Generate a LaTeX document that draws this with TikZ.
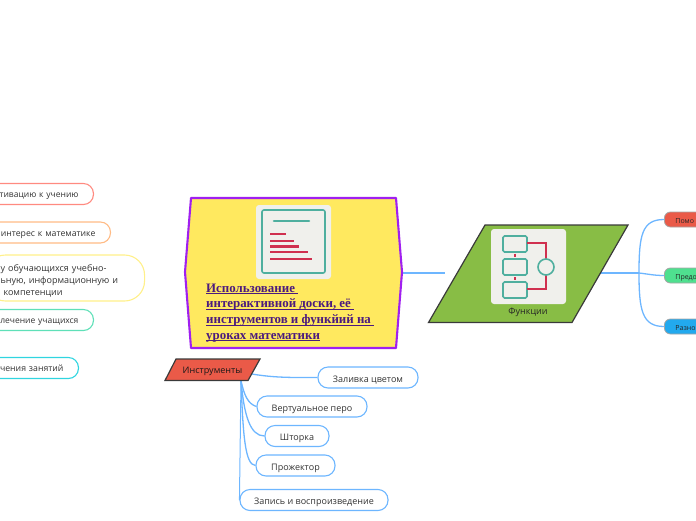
\documentclass[tikz,border=0pt]{standalone}
\usepackage{fontspec}
\usepackage{xcolor}
\usepackage{tikz}
\usetikzlibrary{positioning,arrows.meta,backgrounds,calc}
\setmainfont{Open Sans}
\newfontfamily\headfont{Liberation Serif}
\definecolor{cLink}{HTML}{6DB6FF}
\definecolor{cEdge}{HTML}{3A3A3A}
\definecolor{cPurple}{HTML}{A020F0}
\definecolor{cInk}{HTML}{4B1A7E}
\definecolor{cYellow}{HTML}{FFE95F}
\definecolor{cGreen}{HTML}{88BD45}
\definecolor{cRed}{HTML}{EA5A48}
\definecolor{cMint}{HTML}{4FE08F}
\definecolor{cSky}{HTML}{22A9EE}
\definecolor{cPanel}{HTML}{F0F0EC}
\definecolor{cTeal}{HTML}{4FAF9F}
\definecolor{cBar}{HTML}{D0304F}
\definecolor{cSalmon}{HTML}{FF8A80}
\definecolor{cPeach}{HTML}{FFBB85}
\definecolor{cLemon}{HTML}{FFF08A}
\definecolor{cAqua}{HTML}{5FE0B8}
\definecolor{cCyan}{HTML}{30D5E0}
\newcommand{\headline}[1]{{\setbox0\hbox{#1}\copy0\llap{\rule[-2pt]{\wd0}{1pt}}}}
\tikzset{
  leaf/.style={draw, fill=white, rounded corners=10pt, line width=1.1pt, inner ysep=0pt,
               font=\fontsize{9}{12.2}\selectfont, text=black!80, align=center, minimum height=21pt,
               text height=9pt, text depth=0pt},
  leafL/.style={leaf, inner xsep=15pt, align=right, font=\fontsize{8.5}{12.2}\selectfont, text height=8pt, text depth=1pt},
  leafT/.style={leaf, draw=cLink},
  tab/.style={draw=black!35, rounded corners=6pt, line width=0.8pt, minimum height=15pt, minimum width=50pt,
              anchor=west, align=left, inner xsep=11pt, text width=28pt, font=\fontsize{7}{8}\selectfont, text=black!85,
              text height=7pt, text depth=0pt},
  lnk/.style={cLink, line width=1.3pt},
  shapeE/.style={draw=cEdge, line width=1.2pt},
  panel/.style={fill=cPanel, rounded corners=3pt},
  tealbox/.style={draw=cTeal, line width=1.6pt, rounded corners=1.5pt},
  redbar/.style={cBar, line width=1.4pt}
}
\begin{document}
\begin{tikzpicture}[x=1pt,y=-1pt]
\useasboundingbox (0,0) rectangle (696,520);
% main topic
\draw[draw=cPurple, fill=cYellow, line width=2.1pt, line join=round] (191,198) -- (396,198) -- (402,272) -- (396,348) -- (191,348) -- (185,272) -- cycle;
\fill[panel] (256,205) rectangle (331,279);
\draw[tealbox, rounded corners=2pt] (262,210) rectangle (325,273);
\draw[cTeal, line width=2.6pt, line cap=round] (274,221) -- (309,221);
\draw[redbar] (270,234) -- (286,234);
\draw[redbar] (270,241) -- (294,241);
\draw[redbar, line width=3.4pt] (270,246.500) -- (299,246.500);
\draw[redbar] (270,252) -- (308,252);
\draw[redbar] (270,259) -- (312,259);
\node[anchor=north west, inner sep=0pt, align=left, text=cInk, font=\headfont\bfseries\fontsize{12.9}{15.7}\selectfont] (title) at (206,283.500)
  {\headline{Использование\ }\\\headline{интерактивной доски, её\ }\\\headline{инструментов и функйий на\ }\\\headline{уроках математики}};
\coordinate (mainR) at (402,273);
% functions
\draw[shapeE, fill=cGreen] (485,225) -- (628,225) -- (572,322.500) -- (428.500,322.500) -- cycle;
\fill[panel] (491,229) rectangle (566,304);
\draw[tealbox] (503,236) rectangle (527,252);
\draw[tealbox] (503,259) rectangle (527,275);
\draw[tealbox] (503,282) rectangle (527,298);
\draw[redbar] (527,243) -- (546,243) -- (546,259);
\draw[redbar] (527,289) -- (546,289) -- (546,275);
\draw[redbar] (515,253.500) -- (515,256.500);
\draw[redbar] (515,277) -- (515,280);
\draw[cTeal, line width=1.6pt] (546,267) circle (8);
\node[font=\fontsize{9}{11}\selectfont, text=black!85] (func) at (528,312.500) {Функции};
\coordinate (funcL) at (445,273);
\coordinate (funcR) at (600,273);
\coordinate (fork) at (639,273);
\node[tab, fill=cRed] (help) at (664,219.500) {Помо};
\node[tab, fill=cMint] (pred) at (664,275.500) {Предо};
\node[tab, fill=cSky] (razn) at (664,326.500) {Разно};
% tools
\draw[shapeE, fill=cRed] (176,359) -- (260,359) -- (248,380.500) -- (165,380.500) -- cycle;
\node[font=\fontsize{9}{11}\selectfont, text=black!90] (tools) at (212.500,371) {Инструменты};
\coordinate (toolsR) at (252,374);
\coordinate (toolsB) at (241,380.500);
\node[leafT, minimum width=100pt] (fill) at (368,377.500) {Заливка цветом};
\node[leafT, minimum width=110pt] (pen) at (312,406.500) {Вертуальное перо};
\node[leafT, minimum width=64pt] (blind) at (297,436) {Шторка};
\node[leafT, minimum width=79pt] (proj) at (295.500,465.500) {Прожектор};
\node[leafT, minimum width=148pt] (rec) at (314,500) {Запись и воспроизведение};
% left side
\node[leafL, draw=cSalmon, anchor=east, text width=110pt] (mot) at (94,194) {тивацию к учению};
\node[leafL, draw=cPeach, anchor=east, text width=126pt, font=\fontsize{8.7}{12.2}\selectfont] (inter) at (111,232.500) {интерес к математике};
\node[leafL, draw=cLemon, anchor=west, rounded corners=20pt, align=left, text width=129pt, minimum height=46pt,
      text height=, text depth=, font=\fontsize{9}{12.2}\selectfont] (comp) at (-15,278)
  {\rule{0pt}{13pt}у обучающихся учебно-\\ьную, информационную и\\\hspace*{3pt}компетенции};
\node[leafL, draw=cAqua, anchor=east, text width=110pt] (draw) at (94,320) {лечение учащихся};
\node[leafL, draw=cCyan, anchor=east, text width=95pt, font=\fontsize{8.7}{12.2}\selectfont] (less) at (79,368) {чения занятий};
% links
\begin{scope}[on background layer]
\draw[lnk] (mainR) -- (funcL);
\draw[lnk, line width=1.9pt] (funcR) -- (fork);
\draw[lnk] (fork) .. controls (639,235) and (642,219.500) .. (help.west);
\draw[lnk] (fork) .. controls (648,274) and (654,275.500) .. (pred.west);
\draw[lnk] (fork) .. controls (639,310) and (642,326.500) .. (razn.west);
\draw[lnk] (toolsR) .. controls (275,378) and (295,377.500) .. (fill.west);
\draw[lnk] (toolsB) .. controls (244,395) and (248,404) .. (pen.west);
\draw[lnk] (toolsB) .. controls (244,415) and (250,436) .. (blind.west);
\draw[lnk] (toolsB) .. controls (243,435) and (245,465) .. (proj.west);
\draw[lnk, line width=1pt] (toolsB) -- (rec.west);
\end{scope}
\end{tikzpicture}
\end{document}
